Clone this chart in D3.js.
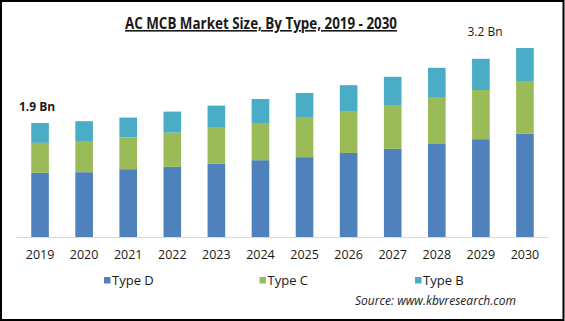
<!DOCTYPE html>
<html>
<head>
<meta charset="utf-8">
<script src="https://cdn.jsdelivr.net/npm/d3@7"></script>
<style>
  body { margin: 0; background: #fff; }
  text { font-family: "Open Sans", sans-serif; fill: #1a1a1a; }
</style>
</head>
<body>
<svg id="chart"></svg>
<script>
// data (USD Bn)
const years = ['2019','2020','2021','2022','2023','2024','2025','2026','2027','2028','2029','2030'];
const typeD = [1.07, 1.08, 1.13, 1.17, 1.22, 1.28, 1.33, 1.40, 1.47, 1.55, 1.63, 1.72];
const typeC = [0.50, 0.52, 0.53, 0.57, 0.60, 0.62, 0.67, 0.70, 0.73, 0.77, 0.82, 0.88];
const typeB = [0.33, 0.33, 0.33, 0.35, 0.37, 0.40, 0.40, 0.43, 0.47, 0.50, 0.52, 0.55];
const seriesNames = ['Type D', 'Type C', 'Type B'];
const seriesColors = ['#4f81bd', '#9bbb59', '#4bacc6'];
const endLabels = [{year: '2019', text: '1.9 Bn', bold: true, dx: -3}, {year: '2030', text: '3.2 Bn', bold: false, dx: -40}];

const W = 565, H = 321;
const margin = {top: 27, left: 18, right: 18, bottom: 84};

const svg = d3.select('#chart').attr('width', W).attr('height', H);

// table for the stack
const table = years.map((y, i) => ({year: y, 'Type D': typeD[i], 'Type C': typeC[i], 'Type B': typeB[i]}));
const stacked = d3.stack().keys(seriesNames)(table);

const baseY = H - margin.bottom; // 237
const xScale = d3.scaleBand(years, [margin.left, W - margin.right]).paddingInner(0.6).paddingOuter(0.3);
const yScale = d3.scaleLinear([0, 3.5], [baseY, baseY - 3.5 * 60]);
const color = d3.scaleOrdinal(seriesNames, seriesColors);

// axis line
svg.append('line')
    .attr('x1', 16).attr('x2', 548)
    .attr('y1', baseY + 0.5).attr('y2', baseY + 0.5)
    .attr('stroke', '#d9d9d9').attr('stroke-width', 1);

// bars
svg.append('g')
  .selectAll('g')
  .data(stacked)
  .join('g')
    .attr('fill', d => color(d.key))
  .selectAll('rect')
  .data(d => d)
  .join('rect')
    .attr('x', d => xScale(d.data.year))
    .attr('y', d => yScale(d[1]))
    .attr('width', xScale.bandwidth())
    .attr('height', d => yScale(d[0]) - yScale(d[1]));

// x axis labels
const xAxis = d3.axisBottom(xScale).tickSize(0).tickPadding(13);
svg.append('g')
    .attr('transform', `translate(0,${baseY})`)
    .call(xAxis)
    .call(g => g.select('.domain').remove())
    .selectAll('text')
    .style('font-family', '"Open Sans", sans-serif')
    .style('font-size', '12.5px')
    .attr('fill', '#111');

// total labels at both ends
const totals = years.map((y, i) => typeD[i] + typeC[i] + typeB[i]);
svg.selectAll('.end-label')
  .data(endLabels)
  .join('text')
    .attr('class', 'end-label')
    .attr('x', d => xScale(d.year) + xScale.bandwidth() / 2 + d.dx)
    .attr('y', d => yScale(totals[years.indexOf(d.year)]) - 12)
    .attr('text-anchor', 'middle')
    .style('font-size', '12px')
    .style('font-weight', d => d.bold ? 'bold' : 'normal')
    .text(d => d.text);

// title
svg.append('text')
    .attr('x', 261)
    .attr('y', 29)
    .attr('text-anchor', 'middle')
    .attr('textLength', 272)
    .attr('lengthAdjust', 'spacingAndGlyphs')
    .style('font-size', '16px')
    .style('font-weight', 'bold')
    .style('text-decoration', 'underline')
    .text('AC MCB Market Size, By Type, 2019 - 2030');

// legend
const legend = svg.append('g').attr('transform', `translate(104,277)`);
const items = legend.selectAll('g')
  .data(seriesNames)
  .join('g')
    .attr('transform', (d, i) => `translate(${i * 155.5},0)`);
items.append('rect')
    .attr('width', 6.5).attr('height', 6.5)
    .attr('fill', d => color(d));
items.append('text')
    .attr('x', 8)
    .attr('y', 7.5)
    .style('font-size', '13px')
    .text(d => d);

// source
svg.append('text')
    .attr('x', 355)
    .attr('y', 305)
    .attr('textLength', 161)
    .style('font-size', '12px')
    .style('font-style', 'italic')
    .text('Source:  www.kbvresearch.com');

// frame
svg.append('rect')
    .attr('x', 1).attr('y', 1)
    .attr('width', W - 2.5).attr('height', H - 2)
    .attr('fill', 'none')
    .attr('stroke', '#000')
    .attr('stroke-width', 2);
</script>
</body>
</html>
